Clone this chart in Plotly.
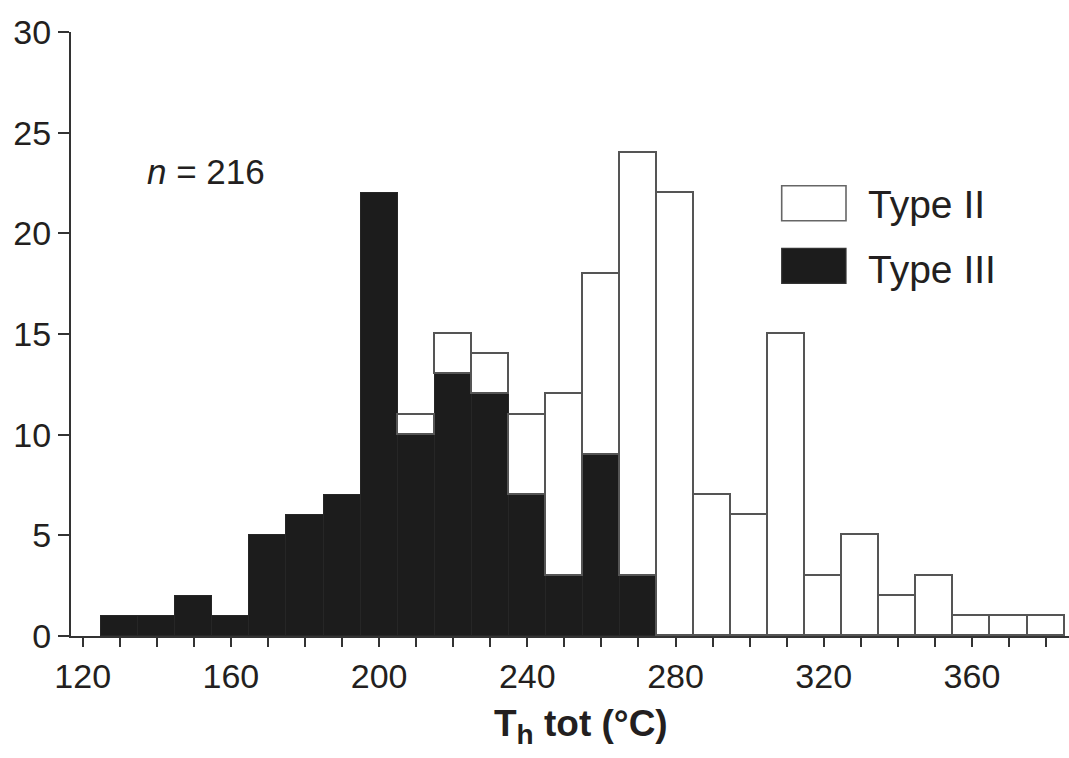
import plotly.graph_objects as go

# Bin centres (°C), bin width 10
bin_centers = [130, 140, 150, 160, 170, 180, 190, 200, 210, 220, 230, 240, 250,
               260, 270, 280, 290, 300, 310, 320, 330, 340, 350, 360, 370, 380]
type_iii = [1, 1, 2, 1, 5, 6, 7, 22, 10, 13, 12, 7, 3, 9, 3,
            0, 0, 0, 0, 0, 0, 0, 0, 0, 0, 0]
type_ii = [0, 0, 0, 0, 0, 0, 0, 0, 1, 2, 2, 4, 9, 9, 21,
           22, 7, 6, 15, 3, 5, 2, 3, 1, 1, 1]
x_tick_vals = [120, 160, 200, 240, 280, 320, 360]
y_tick_vals = [0, 5, 10, 15, 20, 25, 30]
series_names = ["Type II", "Type III"]
n_text = "<i>n</i> = 216"

W, H = 1069, 758
L, R, T, B = 71, 0, 32, 122
pw, ph = W - L - R, H - T - B

def px(x):
    return (x - L) / pw

def py(y):
    return (H - B - y) / ph

TXT = "#231f20"
AX = "#333333"
FONT = "Liberation Sans, Arial, sans-serif"

def nz(v):
    return [None if a == 0 else a for a in v]

fig = go.Figure()
fig.add_trace(go.Bar(x=bin_centers, y=nz(type_iii), width=10, name=series_names[1],
                     marker=dict(color="#1c1c1c", line=dict(color="#262626", width=1)),
                     showlegend=False))
fig.add_trace(go.Bar(x=bin_centers, y=nz(type_ii), width=10, name=series_names[0],
                     marker=dict(color="white", line=dict(color="#555555", width=1.6)),
                     showlegend=False))

fig.update_layout(
    width=W, height=H, barmode="stack", bargap=0,
    margin=dict(l=L, r=R, t=T, b=B),
    paper_bgcolor="white", plot_bgcolor="white",
    font=dict(family=FONT, color=TXT, size=34),
    xaxis=dict(range=[116.85, 386.2], tickvals=x_tick_vals, automargin=False,
               ticks="outside", ticklen=9, tickwidth=2, tickcolor=AX,
               minor=dict(dtick=10, tick0=120, ticks="outside", ticklen=9,
                          tickwidth=2, tickcolor=AX, showgrid=False),
               showline=True, linecolor=AX, linewidth=2, showgrid=False, zeroline=False,
               tickfont=dict(size=34, color=TXT)),
    yaxis=dict(range=[0, 30], tickvals=y_tick_vals, ticks="outside", ticklen=11,
               automargin=False,
               tickwidth=2, tickcolor=AX, showline=True, linecolor=AX, linewidth=2,
               showgrid=False, zeroline=False, tickfont=dict(size=34, color=TXT)),
)

# Legend boxes
fig.add_shape(type="rect", xref="paper", yref="paper", x0=px(781.7), x1=px(846),
              y0=py(220.7), y1=py(185.7), fillcolor="white",
              line=dict(color="#666666", width=1.6))
fig.add_shape(type="rect", xref="paper", yref="paper", x0=px(781.7), x1=px(846),
              y0=py(283.3), y1=py(248.3), fillcolor="#1c1c1c",
              line=dict(color="#333333", width=1.2))
fig.add_annotation(x=px(866), y=py(204), xref="paper", yref="paper", text=series_names[0],
                   showarrow=False, xanchor="left", yanchor="middle",
                   font=dict(size=39, color=TXT, family=FONT))
fig.add_annotation(x=px(866), y=py(269), xref="paper", yref="paper", text=series_names[1],
                   showarrow=False, xanchor="left", yanchor="middle",
                   font=dict(size=39, color=TXT, family=FONT))
fig.add_annotation(x=px(145), y=py(171.5), xref="paper", yref="paper", text=n_text,
                   showarrow=False, xanchor="left", yanchor="middle",
                   font=dict(size=35, color=TXT, family=FONT))
fig.add_annotation(x=px(581), y=py(726), xref="paper", yref="paper",
                   text="<b>T<sub><span style='font-size:28px'>h</span></sub> tot (°C)</b>",
                   showarrow=False, xanchor="center", yanchor="middle",
                   font=dict(size=37, color=TXT, family=FONT))

fig.write_html("out.html", config={"displayModeBar": False},
               post_script="document.body.style.margin='0';document.body.style.padding='0';")
